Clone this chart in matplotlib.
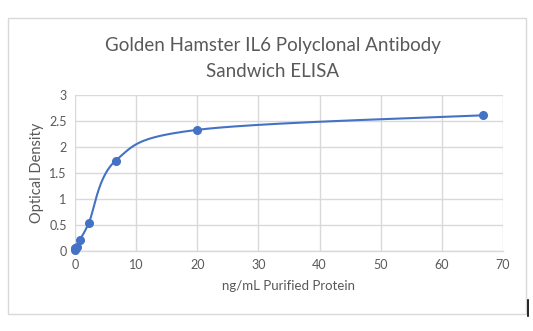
import numpy as np
import matplotlib
matplotlib.use("Agg")
import matplotlib.pyplot as plt
from matplotlib.patches import Rectangle
from matplotlib.lines import Line2D

# Standard curve data
concentration = [0.0, 0.08, 0.25, 0.74, 2.22, 6.67, 20.0, 66.67]
optical_density = [0.02, 0.05, 0.08, 0.21, 0.53, 1.74, 2.33, 2.61]
x_ticks = [0, 10, 20, 30, 40, 50, 60, 70]
y_ticks = [0, 0.5, 1, 1.5, 2, 2.5, 3]
y_tick_labels = ["0", "0.5", "1", "1.5", "2", "2.5", "3"]

title = "Golden Hamster IL6 Polyclonal Antibody\nSandwich ELISA"
x_label = "ng/mL Purified Protein"
y_label = "Optical Density"

W, H = 533, 331
fig = plt.figure(figsize=(W / 100, H / 100), dpi=100)
fig.patch.set_facecolor("white")

font = ["Lato", "DejaVu Sans"]
gray_text = "#595959"
grid_col = "#d9d9d9"
blue = "#4472C4"


def smooth_curve(x, y, n=40):
    """Cardinal-spline smoothing through the points (cubic Bezier segments)."""
    x = np.asarray(x, float)
    y = np.asarray(y, float)
    xs, ys = [x[0]], [y[0]]
    t = 1.0 / 6.0
    for i in range(len(x) - 1):
        p0 = np.array([x[max(i - 1, 0)], y[max(i - 1, 0)]])
        p1 = np.array([x[i], y[i]])
        p2 = np.array([x[i + 1], y[i + 1]])
        p3 = np.array([x[min(i + 2, len(x) - 1)], y[min(i + 2, len(x) - 1)]])
        c1 = p1 + (p2 - p0) * t
        c2 = p2 - (p3 - p1) * t
        s = np.linspace(0, 1, n)[1:, None]
        pts = ((1 - s) ** 3) * p1 + 3 * ((1 - s) ** 2) * s * c1 + 3 * (1 - s) * s ** 2 * c2 + s ** 3 * p2
        xs.extend(pts[:, 0])
        ys.extend(pts[:, 1])
    return np.array(xs), np.array(ys)


# Plot area in pixel coordinates
left, right, bottom, top = 75, 503, 251, 95
ax = fig.add_axes([left / W, 1 - bottom / H, (right - left) / W, (bottom - top) / H])
ax.set_xlim(0, 70)
ax.set_ylim(0, 3)
ax.set_xticks(x_ticks)
ax.set_yticks(y_ticks)
ax.set_yticklabels(y_tick_labels)
ax.grid(True, color=grid_col, linewidth=1)
ax.set_axisbelow(True)
for side in ["top", "right", "left"]:
    ax.spines[side].set_visible(False)
ax.spines["bottom"].set_color(grid_col)
ax.spines["bottom"].set_linewidth(1)
ax.tick_params(length=0, labelsize=9, labelcolor=gray_text, pad=6)
for lab in ax.get_xticklabels() + ax.get_yticklabels():
    lab.set_family(font)

sx, sy = smooth_curve(concentration, optical_density)
ax.plot(sx, sy, color=blue, linewidth=1.5, zorder=3, clip_on=False)
ax.plot(concentration, optical_density, "o", color=blue, markersize=5.5, zorder=4, clip_on=False)

ax.set_xlabel(x_label, fontsize=9.5, color=gray_text, family=font, labelpad=6)
ax.set_ylabel(y_label, fontsize=10.5, color=gray_text, family=font, labelpad=4)

fig.text(273 / W, 1 - 58.5 / H, title, ha="center", va="center", fontsize=13.5,
         color=gray_text, family=font, linespacing=1.6)

# Chart border and text cursor mark
fig.patches.append(Rectangle((8 / W, 1 - 314 / H), (526 - 8) / W, (314 - 18) / H,
                             transform=fig.transFigure, fill=False,
                             edgecolor=grid_col, linewidth=1))
fig.lines.append(Line2D([527.5 / W, 527.5 / W], [1 - 300 / H, 1 - 316 / H],
                        transform=fig.transFigure, color="black", linewidth=1.2))

fig.savefig("out.png", dpi=100, facecolor="white")
